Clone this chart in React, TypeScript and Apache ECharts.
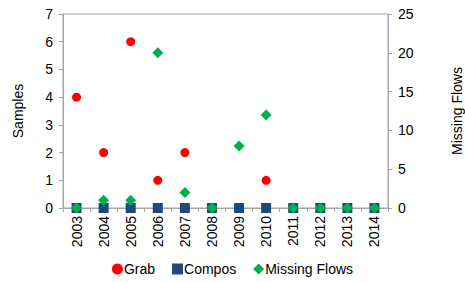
import React, { useEffect, useRef } from "react";
import * as echarts from "echarts";

const years = ["2003","2004","2005","2006","2007","2008","2009","2010","2011","2012","2013","2014"];
const grab = [4, 2, 6, 1, 2, 0, 0, 1, 0, 0, 0, 0];
const compos = [0, 0, 0, 0, 0, 0, 0, 0, 0, 0, 0, 0];
const missingFlows = [0, 1, 1, 20, 2, 0, 8, 12, 0, 0, 0, 0];
const leftTicks = { min: 0, max: 7, interval: 1 };
const rightTicks = { min: 0, max: 25, interval: 5 };

const FONT = "'Liberation Sans', Arial, sans-serif";
const AXIS = "#a6a6a6";

export default function App() {
  const ref = useRef<HTMLDivElement>(null);
  useEffect(() => {
    if (!ref.current) return;
    const chart = echarts.init(ref.current, null, { renderer: "svg" });
    chart.setOption({
      animation: false,
      textStyle: { fontFamily: FONT },
      grid: {
        left: 63, right: 77, top: 14, bottom: 74,
        show: true, borderColor: AXIS, borderWidth: 1,
        containLabel: false, outerBoundsMode: "none",
      },
      legend: {
        bottom: 1,
        left: "center",
        itemGap: 17,
        itemWidth: 11,
        itemHeight: 11,
        textStyle: { fontSize: 14, color: "#000", fontFamily: FONT, padding: [0, 0, 0, -4] },
        data: [
          { name: "Grab", icon: "circle" },
          { name: "Compos", icon: "rect" },
          { name: "Missing Flows", icon: "diamond" },
        ],
      },
      xAxis: {
        type: "category",
        data: years,
        boundaryGap: true,
        axisLine: { lineStyle: { color: AXIS } },
        axisTick: { show: true, interval: 0, length: 4, lineStyle: { color: AXIS } },
        axisLabel: { rotate: 90, interval: 0, fontSize: 14, color: "#000", margin: 8, fontFamily: FONT },
      },
      yAxis: [
        {
          type: "value",
          ...leftTicks,
          name: "Samples",
          nameLocation: "middle",
          nameRotate: 90,
          nameGap: 38,
          nameTextStyle: { fontSize: 14, color: "#000", fontFamily: FONT },
          splitLine: { show: false },
          axisLine: { show: true, lineStyle: { color: AXIS } },
          axisTick: { show: true, length: 4, lineStyle: { color: AXIS } },
          axisLabel: { fontSize: 14, color: "#000", margin: 10, fontFamily: FONT },
        },
        {
          type: "value",
          ...rightTicks,
          position: "right",
          name: "Missing Flows",
          nameLocation: "middle",
          nameRotate: 90,
          nameGap: 62,
          nameTextStyle: { fontSize: 14, color: "#000", fontFamily: FONT },
          splitLine: { show: false },
          axisLine: { show: true, lineStyle: { color: AXIS } },
          axisTick: { show: true, length: 4, lineStyle: { color: AXIS } },
          axisLabel: { fontSize: 14, color: "#000", margin: 10, fontFamily: FONT },
        },
      ],
      series: [
        {
          name: "Grab",
          type: "scatter",
          yAxisIndex: 0,
          data: grab,
          symbol: "circle",
          symbolSize: 9,
          itemStyle: { color: "#ff0000", opacity: 1 },
        },
        {
          name: "Compos",
          type: "scatter",
          yAxisIndex: 0,
          data: compos,
          symbol: "rect",
          symbolSize: 10,
          itemStyle: { color: "#1f497d", opacity: 1 },
        },
        {
          name: "Missing Flows",
          type: "scatter",
          yAxisIndex: 1,
          data: missingFlows,
          symbol: "diamond",
          symbolSize: 11,
          itemStyle: { color: "#00b050", opacity: 1 },
        },
      ],
    });
    return () => chart.dispose();
  }, []);
  return <div ref={ref} style={{ width: 465, height: 282, position: "absolute", left: 0, top: 0 }} />;
}
